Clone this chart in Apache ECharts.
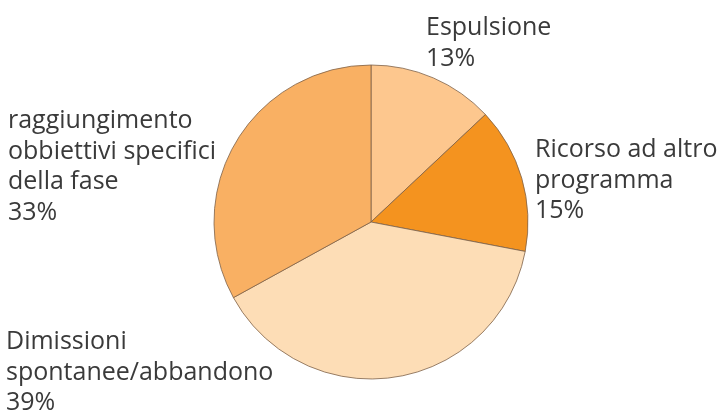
<!DOCTYPE html>
<html>
<head>
<meta charset="utf-8">
<script src="https://cdn.jsdelivr.net/npm/echarts@6/dist/echarts.min.js"></script>
<style>
  html, body { margin: 0; padding: 0; background: #fff; }
  #chart { width: 718px; height: 417px; }
</style>
</head>
<body>
<div id="chart"></div>
<script>
// Motivi di uscita dal programma (percentuali)
const categories = [
  'Espulsione',
  'Ricorso ad altro\nprogramma',
  'Dimissioni\nspontanee/abbandono',
  'raggiungimento\nobbiettivi specifici\ndella fase'
];
const values = [13, 15, 39, 33];
const colors = ['#FDC78E', '#F4931F', '#FDDDB6', '#F9B063'];

// Top-left corner of each label block
const labelAnchors = [
  [426, 13],
  [535, 135],
  [6, 327],
  [8, 106]
];

const chart = echarts.init(document.getElementById('chart'));
chart.setOption({
  animation: false,
  series: [{
    type: 'pie',
    center: [371, 222],
    radius: 157,
    startAngle: 90,
    clockwise: true,
    avoidLabelOverlap: false,
    itemStyle: { borderColor: '#7d6148', borderWidth: 0.8 },
    label: {
      show: true,
      position: 'outside',
      formatter: p => p.name + '\n' + p.value + '%',
      fontFamily: 'Open Sans',
      fontSize: 25,
      lineHeight: 30.5,
      color: '#3a3a3a',
      align: 'left'
    },
    labelLine: { show: false },
    labelLayout: params => ({
      x: labelAnchors[params.dataIndex][0],
      y: labelAnchors[params.dataIndex][1],
      align: 'left',
      verticalAlign: 'top'
    }),
    emphasis: { disabled: true },
    data: categories.map((name, i) => ({
      name: name,
      value: values[i],
      itemStyle: { color: colors[i] }
    }))
  }]
});
</script>
</body>
</html>
